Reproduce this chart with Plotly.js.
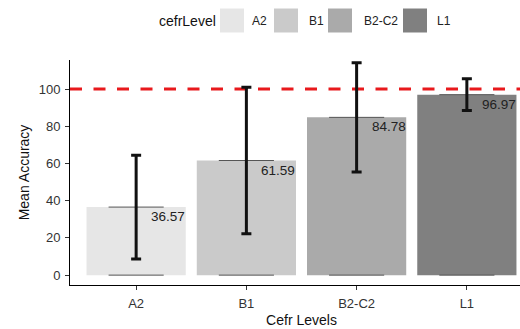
<!DOCTYPE html>
<html><head><meta charset="utf-8">
<script src="https://cdn.plot.ly/plotly-3.0.1.min.js"></script>
<style>html,body{margin:0;padding:0;overflow:hidden;background:#fff}</style>
</head><body><div id="chart" style="width:534px;height:329px"></div>
<script>
const categories = ["A2", "B1", "B2-C2", "L1"];
const meanAccuracy = [36.57, 61.59, 84.78, 96.97];
const errorSD = [27.9, 39.4, 29.4, 8.5];
const valueLabels = ["36.57", "61.59", "84.78", "96.97"];
const barColors = ["#e6e6e6", "#cacaca", "#aaaaaa", "#808080"];
const yTicks = [0, 20, 40, 60, 80, 100];
const referenceLine = 100;
const legendTitle = "cefrLevel";

const FONT = "Liberation Sans, Arial, sans-serif";
const W = 534, H = 329, L = 70, R = 1, T = 60, B = 44;
const pw = W - L - R, ph = H - T - B;
const pxX = p => (p - L) / pw;
const pxY = p => (H - B - p) / ph;

const idx = categories.map((c, i) => i);

const barTrace = {
  type: "bar", x: idx, y: meanAccuracy, width: 0.9,
  marker: {color: barColors, line: {width: 0}},
  hoverinfo: "skip", showlegend: false
};

const segX = [], segY = [];
idx.forEach((i, k) => {
  segX.push(i - 0.25, i + 0.25, null, i - 0.25, i + 0.25, null);
  segY.push(meanAccuracy[k], meanAccuracy[k], null, 0, 0, null);
});
const segTrace = {
  type: "scatter", mode: "lines", x: segX, y: segY,
  line: {color: "#555555", width: 1}, hoverinfo: "skip", showlegend: false
};

const errTrace = {
  type: "scatter", mode: "markers", x: idx, y: meanAccuracy,
  marker: {size: 1, opacity: 0},
  error_y: {type: "data", array: errorSD, visible: true, color: "#111111", thickness: 3, width: 5},
  hoverinfo: "skip", showlegend: false
};

const annotations = idx.map((i, k) => ({
  x: i, y: meanAccuracy[k], xref: "x", yref: "y", text: valueLabels[k],
  showarrow: false, xanchor: "left", yanchor: "middle", xshift: 13, yshift: -9.5,
  font: {family: FONT, size: 13.5, color: "#222222"}
}));

// manual legend (larger swatches like the reference)
const swatchLeft = [220, 274, 328, 403];
const labelLeft = [250, 307, 362, 435];
const shapes = [{
  type: "line", xref: "paper", yref: "y", x0: 0, x1: 1, y0: referenceLine, y1: referenceLine,
  line: {color: "#e8191c", width: 3, dash: "12px,11.5px"}, layer: "below"
}];
categories.forEach((c, k) => {
  shapes.push({
    type: "rect", xref: "paper", yref: "paper",
    x0: pxX(swatchLeft[k]), x1: pxX(swatchLeft[k] + 24),
    y0: pxY(32.5), y1: pxY(8.5),
    fillcolor: barColors[k], line: {width: 0}
  });
  annotations.push({
    xref: "paper", yref: "paper", x: pxX(labelLeft[k]), y: pxY(21), text: c,
    showarrow: false, xanchor: "left", yanchor: "middle",
    font: {family: FONT, size: 12, color: "#222222"}
  });
});
annotations.push({
  xref: "paper", yref: "paper", x: pxX(157), y: pxY(21), text: legendTitle,
  showarrow: false, xanchor: "left", yanchor: "middle",
  font: {family: FONT, size: 14, color: "#111111"}
});

const layout = {
  width: W, height: H,
  margin: {l: L, r: R, t: T, b: B, pad: 0},
  paper_bgcolor: "#ffffff", plot_bgcolor: "#ffffff",
  font: {family: FONT},
  showlegend: false,
  xaxis: {
    range: [-0.6, 3.6], tickmode: "array", tickvals: idx, ticktext: categories,
    showline: true, linecolor: "#000000", linewidth: 1,
    ticks: "outside", ticklen: 4, tickcolor: "#333333", tickwidth: 1,
    tickfont: {family: FONT, size: 13, color: "#333333"}, ticklabelstandoff: 2,
    showgrid: false, zeroline: false, automargin: false,
    title: {text: "Cefr Levels", font: {family: FONT, size: 14, color: "#111111"}, standoff: 5}
  },
  yaxis: {
    range: [-5.3, 115.6], tickmode: "array", tickvals: yTicks,
    showline: true, linecolor: "#000000", linewidth: 1,
    ticks: "outside", ticklen: 4, tickcolor: "#333333", tickwidth: 1,
    tickfont: {family: FONT, size: 13, color: "#333333"}, ticklabelstandoff: 2,
    showgrid: false, zeroline: false, automargin: false,
    title: {text: "Mean Accuracy", font: {family: FONT, size: 14, color: "#111111"}, standoff: 5}
  },
  shapes: shapes,
  annotations: annotations
};

Plotly.newPlot("chart", [barTrace, segTrace, errTrace], layout, {displayModeBar: false, staticPlot: true});
</script></body></html>
